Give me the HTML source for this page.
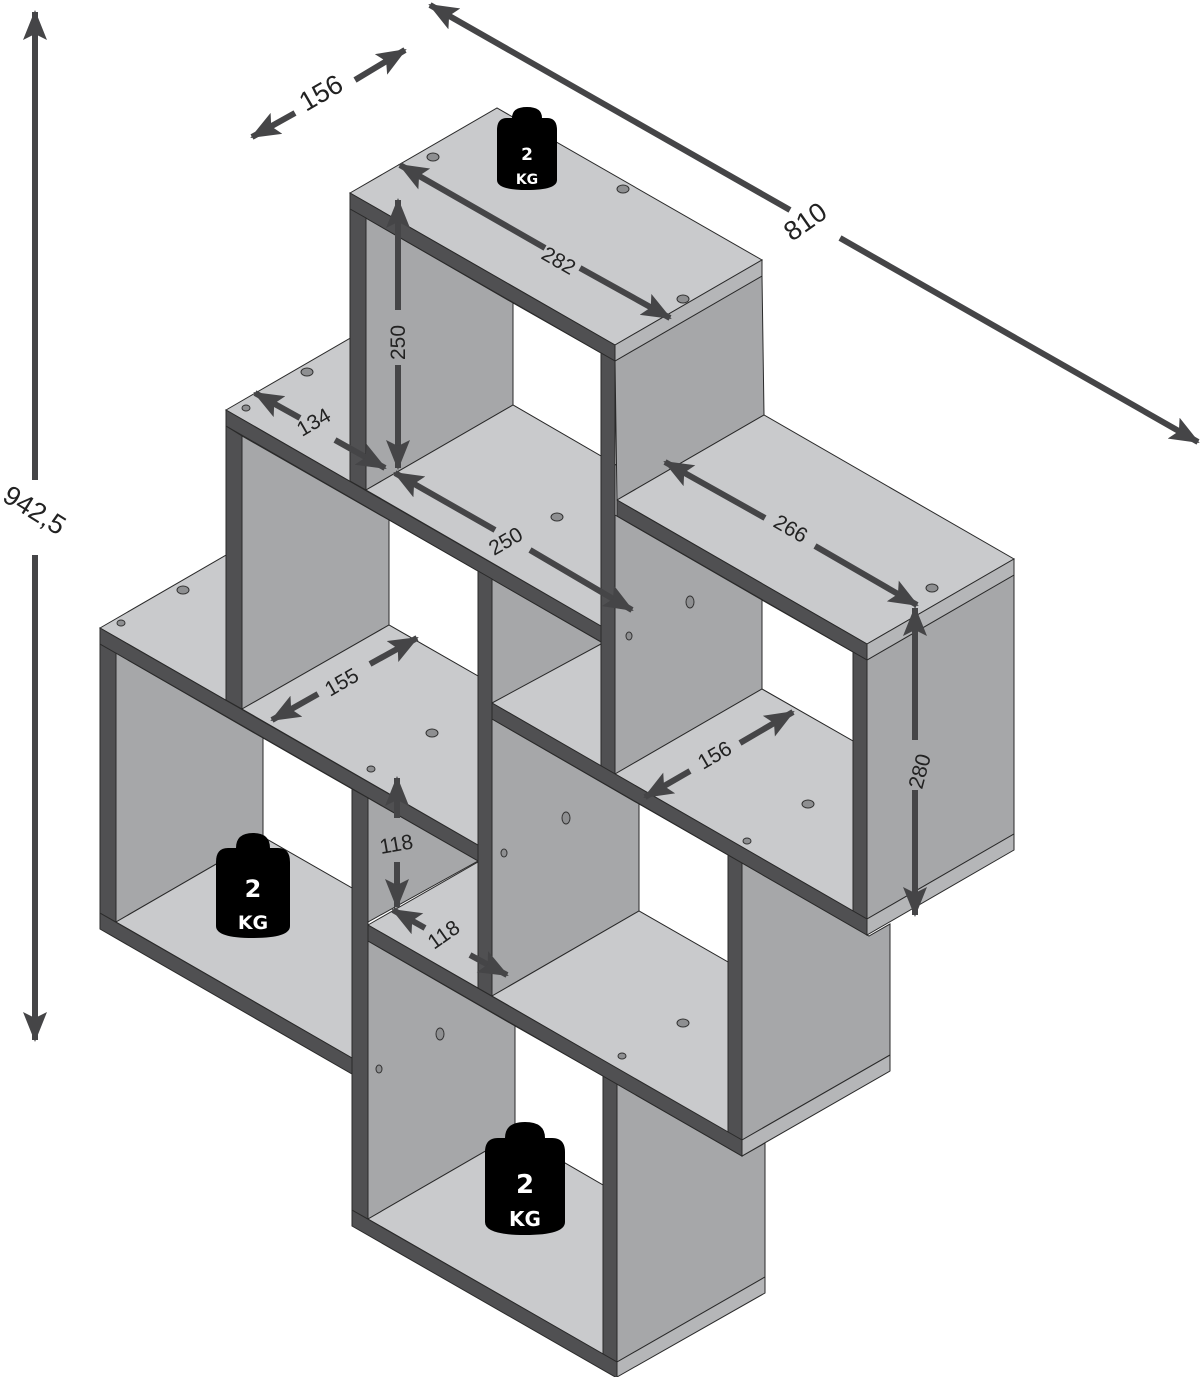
<!DOCTYPE html>
<html><head><meta charset="utf-8"><style>
html,body{margin:0;padding:0;background:#fff;width:1200px;height:1377px;overflow:hidden}
svg{display:block}
.t{fill:#c9cacc;stroke:#2a2a2a;stroke-width:1}
.m{fill:#a6a7a9;stroke:#2a2a2a;stroke-width:1}
.e{fill:#b5b6b8;stroke:#2a2a2a;stroke-width:1}
.d{fill:#505052;stroke:#2a2a2a;stroke-width:1}
.w{fill:#fff;stroke:#2a2a2a;stroke-width:1}
.a{stroke:#454547;stroke-width:6;fill:none}
.lbl{font-family:"Liberation Sans",sans-serif;font-size:21px;fill:#222}
.big{font-family:"Liberation Sans",sans-serif;font-size:27px;fill:#222}
.kg{font-family:"DejaVu Sans","Liberation Sans",sans-serif;font-weight:bold;fill:#fff;text-anchor:middle}
.h{fill:#8e8f91;stroke:#333;stroke-width:1}
</style></head><body>
<svg width="1200" height="1377" viewBox="0 0 1200 1377" xmlns="http://www.w3.org/2000/svg">
<defs>
<marker id="ah" viewBox="0 0 30 24" refX="28" refY="12" markerWidth="30" markerHeight="24" markerUnits="userSpaceOnUse" orient="auto-start-reverse">
<path d="M0,0 L30,12 L0,24 L6,12 Z" fill="#454547"/>
</marker>
</defs>

<polygon class="t" points="100,628 247,543 625,760 478,845"/>
<polygon class="m" points="116,653 263,738 263,837 116,922"/>
<polygon class="w" points="263,738 352,789 352,888 263,837"/>
<polygon class="t" points="116,922 263,837 352,888 352,1058"/>
<polygon class="d" points="100,913 352,1058 352,1074 100,929"/>
<polygon class="d" points="100,644 116,653 116,922 100,913"/>
<polygon class="d" points="100,628 478,845 478,861 100,644"/>

<polygon class="m" points="242,436 389,520 389,625 242,709"/>
<polygon class="w" points="389,520 478,571 478,676 389,625"/>
<polygon class="t" points="242,709 389,625 478,676 478,845 242,709"/>
<polygon class="d" points="226,426 242,436 242,709 226,700"/>

<polygon class="m" points="492,579 601,642 601,644 492,706"/>
<polygon class="t" points="492,703 601,644 601,766"/>

<polygon class="t" points="226,410 373,325 750,542 603,627"/>
<polygon class="d" points="226,410 603,627 603,643 226,426"/>

<polygon class="m" points="368,798 478,861 368,922"/>
<polygon class="t" points="368,925 478,862 478,988"/>

<polygon class="t" points="350,193 497,108 762,260 615,345"/>
<polygon class="m" points="366,218 513,303 513,405 366,490"/>
<polygon class="w" points="513,303 601,353 601,456 513,405"/>
<polygon class="t" points="366,490 513,405 601,456 601,626"/>
<polygon class="m" points="615,361 762,276 764,415 617,500"/>
<polygon class="d" points="350,193 615,345 615,361 350,209"/>
<polygon class="e" points="615,345 762,260 762,276 615,361"/>
<polygon class="d" points="350,209 366,218 366,490 350,481"/>

<polygon class="t" points="617,500 764,415 1014,559 867,644"/>
<polygon class="m" points="615,515 762,600 762,689 615,774"/>
<polygon class="w" points="762,600 853,652 853,741 762,689"/>
<polygon class="t" points="615,774 762,689 853,741 853,911"/>
<polygon class="m" points="867,660 1014,575 1014,834 867,919"/>
<polygon class="d" points="617,500 867,644 867,660 617,516"/>
<polygon class="e" points="867,644 1014,559 1014,575 867,660"/>
<polygon class="d" points="853,652 867,660 867,919 853,911"/>
<polygon class="d" points="601,353 615,361 615,774 601,766"/>

<polygon class="m" points="492,719 639,804 639,911 492,996"/>
<polygon class="w" points="639,804 728,855 728,962 639,911"/>
<polygon class="t" points="492,996 639,911 728,962 728,1133"/>
<polygon class="m" points="742,863 869,936 890,924 890,1055 742,1140"/>
<polygon class="d" points="728,855 742,863 742,1140 728,1133"/>

<polygon class="d" points="492,703 867,919 867,935 492,719"/>
<polygon class="e" points="867,919 1014,834 1014,850 867,935"/>

<polygon class="m" points="368,941 515,1026 515,1134 368,1219"/>
<polygon class="w" points="515,1026 603,1076 603,1185 515,1134"/>
<polygon class="t" points="368,1219 515,1134 603,1185 603,1354"/>
<polygon class="m" points="617,1084 742,1156 765,1143 765,1277 617,1362"/>
<polygon class="d" points="603,1076 617,1084 617,1362 603,1354"/>
<polygon class="d" points="352,1210 617,1362 617,1378 352,1226"/>
<polygon class="e" points="617,1362 765,1277 765,1293 617,1377"/>

<polygon class="d" points="368,925 742,1140 742,1156 368,941"/>
<polygon class="e" points="742,1140 890,1055 890,1071 742,1156"/>

<polygon class="d" points="478,571 492,579 492,996 478,988"/>
<polygon class="d" points="352,789 368,798 368,1219 352,1210"/>

<ellipse class="h" cx="433" cy="157" rx="6" ry="4"/>
<ellipse class="h" cx="623" cy="189" rx="6" ry="4"/>
<ellipse class="h" cx="683" cy="299" rx="6" ry="4"/>
<ellipse class="h" cx="307" cy="372" rx="6" ry="4"/>
<ellipse class="h" cx="246" cy="408" rx="4" ry="3"/>
<ellipse class="h" cx="557" cy="517" rx="6" ry="4"/>
<ellipse class="h" cx="183" cy="590" rx="6" ry="4"/>
<ellipse class="h" cx="121" cy="623" rx="4" ry="3"/>
<ellipse class="h" cx="932" cy="588" rx="6" ry="4"/>
<ellipse class="h" cx="690" cy="602" rx="4" ry="6"/>
<ellipse class="h" cx="629" cy="636" rx="3" ry="4"/>
<ellipse class="h" cx="432" cy="733" rx="6" ry="4"/>
<ellipse class="h" cx="371" cy="769" rx="4" ry="3"/>
<ellipse class="h" cx="808" cy="804" rx="6" ry="4"/>
<ellipse class="h" cx="747" cy="841" rx="4" ry="3"/>
<ellipse class="h" cx="566" cy="818" rx="4" ry="6"/>
<ellipse class="h" cx="504" cy="853" rx="3" ry="4"/>
<ellipse class="h" cx="683" cy="1023" rx="6" ry="4"/>
<ellipse class="h" cx="622" cy="1056" rx="4" ry="3"/>
<ellipse class="h" cx="440" cy="1034" rx="4" ry="6"/>
<ellipse class="h" cx="379" cy="1069" rx="3" ry="4"/>

<g>
<path d="M512,118 Q512,107 527,107 Q542,107 542,118 L547,118 Q557,118 557,130 L557,180 Q557,190 527,190 Q497,190 497,180 L497,130 Q497,118 507,118 Z" fill="#000"/>
<text class="kg" x="527" y="160" font-size="17">2</text>
<text class="kg" x="527" y="184" font-size="14">KG</text>
</g>
<g>
<path d="M236,848 Q236,833 253,833 Q270,833 270,848 L278,848 Q290,848 290,862 L290,926 Q290,938 253,938 Q216,938 216,926 L216,862 Q216,848 228,848 Z" fill="#000"/>
<text class="kg" x="253" y="897" font-size="24">2</text>
<text class="kg" x="253" y="929" font-size="19">KG</text>
</g>
<g>
<path d="M505,1138 Q505,1122 525,1122 Q545,1122 545,1138 L552,1138 Q565,1138 565,1152 L565,1222 Q565,1235 525,1235 Q485,1235 485,1222 L485,1152 Q485,1138 498,1138 Z" fill="#000"/>
<text class="kg" x="525" y="1193" font-size="26">2</text>
<text class="kg" x="525" y="1226" font-size="20">KG</text>
</g>

<g class="a">
<line x1="35" y1="480" x2="35" y2="12" marker-end="url(#ah)"/>
<line x1="35" y1="555" x2="35" y2="1040" marker-end="url(#ah)"/>
<line x1="295" y1="113" x2="252" y2="137" marker-end="url(#ah)"/>
<line x1="355" y1="80" x2="405" y2="50" marker-end="url(#ah)"/>
<line x1="790" y1="210" x2="430" y2="5" marker-end="url(#ah)"/>
<line x1="840" y1="238" x2="1198" y2="442" marker-end="url(#ah)"/>
<line x1="545" y1="248" x2="400" y2="165" marker-end="url(#ah)"/>
<line x1="580" y1="268" x2="670" y2="318" marker-end="url(#ah)"/>
<line x1="398" y1="310" x2="398" y2="200" marker-end="url(#ah)"/>
<line x1="398" y1="365" x2="398" y2="468" marker-end="url(#ah)"/>
<line x1="300" y1="418" x2="255" y2="393" marker-end="url(#ah)"/>
<line x1="335" y1="440" x2="385" y2="468" marker-end="url(#ah)"/>
<line x1="495" y1="530" x2="395" y2="473" marker-end="url(#ah)"/>
<line x1="530" y1="550" x2="632" y2="610" marker-end="url(#ah)"/>
<line x1="765" y1="518" x2="665" y2="462" marker-end="url(#ah)"/>
<line x1="815" y1="546" x2="917" y2="605" marker-end="url(#ah)"/>
<line x1="915" y1="740" x2="915" y2="608" marker-end="url(#ah)"/>
<line x1="915" y1="790" x2="915" y2="915" marker-end="url(#ah)"/>
<line x1="318" y1="694" x2="272" y2="720" marker-end="url(#ah)"/>
<line x1="370" y1="664" x2="417" y2="638" marker-end="url(#ah)"/>
<line x1="690" y1="771" x2="645" y2="797" marker-end="url(#ah)"/>
<line x1="740" y1="743" x2="793" y2="712" marker-end="url(#ah)"/>
<line x1="397" y1="818" x2="397" y2="778" marker-end="url(#ah)"/>
<line x1="397" y1="862" x2="397" y2="907" marker-end="url(#ah)"/>
<line x1="425" y1="928" x2="393" y2="910" marker-end="url(#ah)"/>
<line x1="470" y1="955" x2="507" y2="975" marker-end="url(#ah)"/>
</g>

<text class="big" transform="translate(1,500) rotate(32)">942,5</text>
<text class="big" transform="translate(306,112) rotate(-30)">156</text>
<text class="big" transform="translate(792,242) rotate(-35)">810</text>
<text class="lbl" transform="translate(540,258) rotate(30)">282</text>
<text class="lbl" transform="translate(405,360) rotate(-90)">250</text>
<text class="lbl" transform="translate(302,437) rotate(-30)">134</text>
<text class="lbl" transform="translate(494,556) rotate(-30)">250</text>
<text class="lbl" transform="translate(772,526) rotate(30)">266</text>
<text class="lbl" transform="translate(922,790) rotate(-75)">280</text>
<text class="lbl" transform="translate(330,697) rotate(-30)">155</text>
<text class="lbl" transform="translate(703,770) rotate(-30)">156</text>
<text class="lbl" transform="translate(381,854) rotate(-10)">118</text>
<text class="lbl" transform="translate(434,950) rotate(-35)">118</text>
</svg>
</body></html>
